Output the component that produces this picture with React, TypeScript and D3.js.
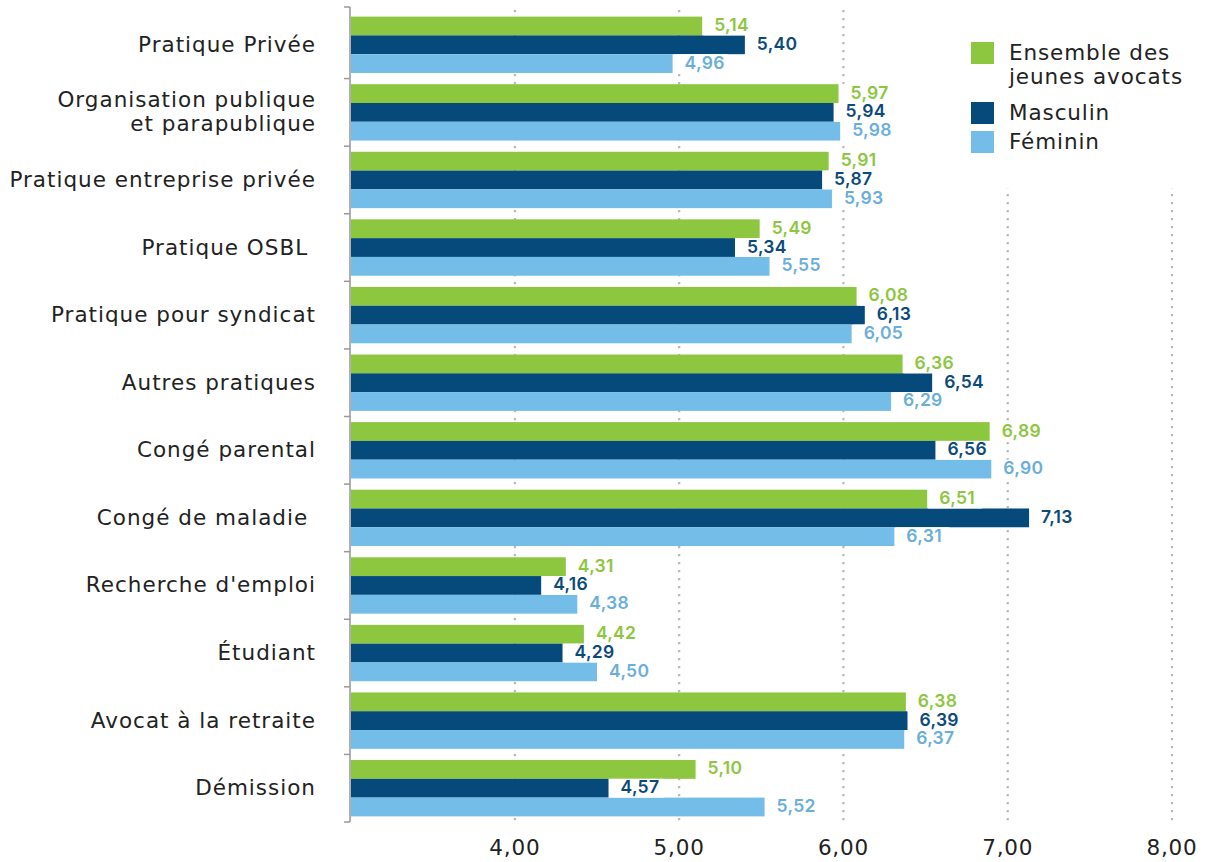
import React from "react";
import * as d3 from "d3";

const categories = [
  "Pratique Privée",
  "Organisation publique\net parapublique",
  "Pratique entreprise privée",
  "Pratique OSBL\u00A0",
  "Pratique pour syndicat",
  "Autres pratiques",
  "Congé parental",
  "Congé de maladie\u00A0",
  "Recherche d'emploi",
  "Étudiant",
  "Avocat à la retraite",
  "Démission",
];
const ensemble = [5.14, 5.97, 5.91, 5.49, 6.08, 6.36, 6.89, 6.51, 4.31, 4.42, 6.38, 5.1];
const masculin = [5.4, 5.94, 5.87, 5.34, 6.13, 6.54, 6.56, 7.13, 4.16, 4.29, 6.39, 4.57];
const feminin = [4.96, 5.98, 5.93, 5.55, 6.05, 6.29, 6.9, 6.31, 4.38, 4.5, 6.37, 5.52];
const seriesNames = ["Ensemble des\njeunes avocats", "Masculin", "Féminin"];
const xTicks = [4, 5, 6, 7, 8];

const barColors = ["#8dc63f", "#064a7b", "#74bde9"];
const labelColors = ["#8dc63f", "#0b4a7a", "#6aaedb"];
const FONT = "'DejaVu Sans', sans-serif";
const VFONT = "Inter, 'Noto Sans', sans-serif";

const fmt = (v: number) => v.toFixed(2).replace(".", ",");

export default function App() {
  const W = 1210, H = 862;
  const x = d3.scaleLinear().domain([3, 8]).range([350.6, 1172]);
  const y = d3
    .scaleBand<number>()
    .domain(d3.range(categories.length))
    .range([11, 822])
    .paddingInner(0.166)
    .paddingOuter(0.083);
  const sub = d3.scaleBand<number>().domain([0, 1, 2]).range([0, y.bandwidth()]);
  const series = [ensemble, masculin, feminin];
  const step = y.step();
  const boundaries = [7, ...d3.range(1, categories.length).map((i) => (y(i) as number) - (step - y.bandwidth()) / 2), 822];

  return (
    <svg width={W} height={H} style={{ position: "absolute", left: 0, top: 0, background: "#fff" }} fontFamily={FONT}>
      {/* gridlines */}
      {xTicks.map((t) => (
        <line key={"g" + t} x1={x(t)} x2={x(t)} y1={10} y2={822} stroke="#b8b8b8" strokeWidth={2.2} strokeDasharray="2.2,5.8" />
      ))}
      {/* bars */}
      {categories.map((c, i) =>
        series.map((s, k) => {
          const yy = (y(i) as number) + (sub(k) as number);
          return (
            <rect key={`b${i}-${k}`} x={x(3)} y={yy} width={x(s[i]) - x(3)} height={sub.bandwidth()} fill={barColors[k]} />
          );
        })
      )}
      {/* value labels */}
      {categories.map((c, i) =>
        series.map((s, k) => {
          const yy = (y(i) as number) + (sub(k) as number);
          const cy = yy + sub.bandwidth() / 2;
          const bx = x(s[i]);
          return (
            <g key={`l${i}-${k}`}>
              <rect x={bx + 1} y={yy} width={54} height={sub.bandwidth()} fill="#fff" />
              <text x={bx + 12} y={cy + 5} fontFamily={VFONT} fontSize={17.5} fontWeight={600} letterSpacing={0.3} fill={labelColors[k]}>
                {fmt(s[i])}
              </text>
            </g>
          );
        })
      )}
      {/* y axis */}
      <line x1={350} x2={350} y1={7} y2={822} stroke="#b0b0b0" strokeWidth={2} />
      {boundaries.map((b, i) => (
        <line key={"t" + i} x1={344} x2={350} y1={b} y2={b} stroke="#999" strokeWidth={1.5} />
      ))}
      {/* category labels */}
      {categories.map((c, i) => {
        const lines = c.split("\n");
        const cy = (y(i) as number) + y.bandwidth() / 2;
        const lh = 24;
        return (
          <text key={"c" + i} x={316} textAnchor="end" fontSize={21.5} letterSpacing={1.0} fill="#222" style={{ whiteSpace: "pre" }}>
            {lines.map((ln, j) => (
              <tspan key={j} x={316} y={cy - ((lines.length - 1) * lh) / 2 + j * lh + 7}>
                {ln}
              </tspan>
            ))}
          </text>
        );
      })}
      {/* x tick labels */}
      {xTicks.map((t) => (
        <text key={"x" + t} x={x(t)} y={855} textAnchor="middle" fontSize={21.5} letterSpacing={0.8} fill="#222">
          {fmt(t)}
        </text>
      ))}
      {/* legend */}
      <rect x={960} y={0} width={245} height={188} fill="#fff" />
      {seriesNames.map((n, k) => {
        const sy = [42, 102, 131][k];
        const lines = n.split("\n");
        return (
          <g key={"lg" + k}>
            <rect x={971} y={sy} width={23} height={22} fill={barColors[k]} />
            <text fontSize={21.5} letterSpacing={0.9} fill="#222">
              {lines.map((ln, j) => (
                <tspan key={j} x={1009} y={sy + 18 + j * 24}>
                  {ln}
                </tspan>
              ))}
            </text>
          </g>
        );
      })}
    </svg>
  );
}
